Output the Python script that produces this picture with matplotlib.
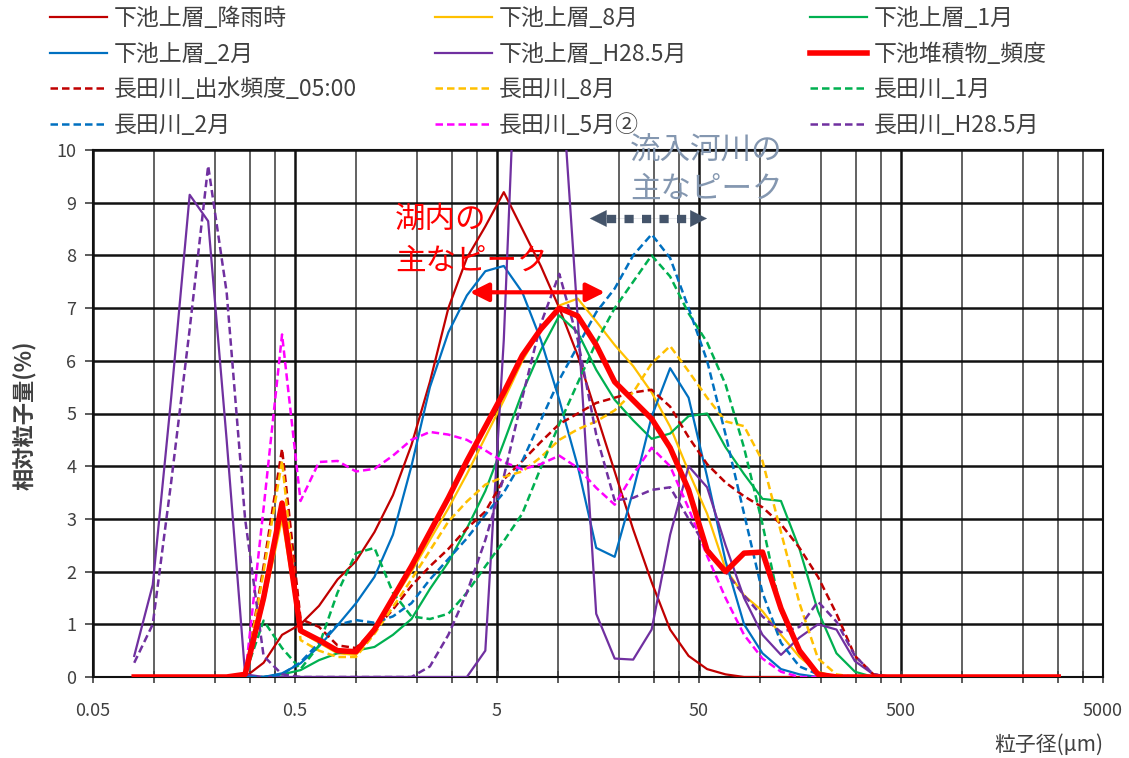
import matplotlib
matplotlib.use('Agg')
from matplotlib import pyplot as plt
from matplotlib.ticker import FixedLocator, FixedFormatter, NullFormatter

# particle size channels [um]
size_um = [0.080, 0.0988, 0.1219, 0.1505, 0.1858, 0.2294, 0.2831, 0.3495, 0.4314, 0.5326,
           0.6575, 0.8116, 1.002, 1.237, 1.527, 1.885, 2.327, 2.872, 3.546, 4.377,
           5.403, 6.671, 8.235, 10.17, 12.55, 15.49, 19.12, 23.61, 29.14, 35.98,
           44.41, 54.83, 67.68, 83.56, 103.1, 127.3, 157.2, 194.1, 239.6, 295.8,
           365.1, 450.7, 556.4, 686.9, 848.0, 1046, 1292, 1595, 1969, 2431, 3000]

# relative amount [%]
lake_rain = [0, 0, 0, 0, 0, 0, 0, 0.27, 0.8, 1.0,
             1.35, 1.85, 2.2, 2.75, 3.45, 4.4, 5.6, 7.0, 7.95, 8.55,
             9.2, 8.5, 7.8, 7.0, 6.1, 5.0, 3.9, 2.8, 1.8, 0.9,
             0.4, 0.15, 0.05, 0, 0, 0, 0, 0, 0, 0,
             0, 0, 0, 0, 0, 0, 0, 0, 0, 0, 0]
lake_aug = [0, 0, 0, 0, 0, 0, 0, 1.4, 3.0, 0.85,
            0.65, 0.45, 0.42, 0.85, 1.45, 2.0, 2.6, 3.2, 3.85, 4.55,
            5.25, 6.0, 6.6, 7.05, 7.18, 6.75, 6.3, 5.9, 5.4, 4.75,
            3.9, 3.1, 2.05, 1.55, 1.25, 0.8, 0.38, 0.1, 0, 0,
            0, 0, 0, 0, 0, 0, 0, 0, 0, 0, 0]
lake_jan = [0, 0, 0, 0, 0, 0, 0, 0, 0.05, 0.13,
            0.32, 0.45, 0.5, 0.57, 0.8, 1.1, 1.67, 2.18, 2.82, 3.53,
            4.45, 5.4, 6.2, 6.86, 6.54, 5.83, 5.26, 4.87, 4.52, 4.62,
            4.95, 5.0, 4.36, 3.85, 3.38, 3.34, 2.43, 1.25, 0.45, 0.1,
            0, 0, 0, 0, 0, 0, 0, 0, 0, 0, 0]
lake_feb = [0, 0, 0, 0, 0, 0, 0, 0, 0.07, 0.26,
            0.58, 0.98, 1.4, 1.9, 2.7, 4.0, 5.5, 6.54, 7.24, 7.7,
            7.8, 7.3, 6.4, 5.26, 4.0, 2.45, 2.28, 3.53, 4.94, 5.86,
            5.3, 3.8, 2.2, 1.0, 0.45, 0.15, 0.05, 0, 0, 0,
            0, 0, 0, 0, 0, 0, 0, 0, 0, 0, 0]
lake_may = [0.4, 1.75, 5.3, 9.15, 8.65, 4.5, 0.05, 0, 0, 0,
            0, 0, 0, 0, 0, 0, 0, 0, 0, 0.5,
            6.4, 15.0, 18.0, 12.0, 6.8, 1.2, 0.35, 0.33, 0.9, 2.7,
            4.0, 3.6, 2.5, 1.5, 0.8, 0.42, 0.75, 1.0, 0.9, 0.3,
            0.05, 0, 0, 0, 0, 0, 0, 0, 0, 0, 0]
sediment = [0, 0, 0, 0, 0, 0, 0.05, 1.5, 3.3, 0.88,
            0.7, 0.5, 0.48, 0.9, 1.5, 2.1, 2.75, 3.4, 4.1, 4.75,
            5.4, 6.1, 6.6, 7.0, 6.85, 6.3, 5.6, 5.25, 4.9, 4.35,
            3.55, 2.4, 2.0, 2.35, 2.37, 1.3, 0.5, 0.05, 0, 0,
            0, 0, 0, 0, 0, 0, 0, 0, 0, 0, 0]
river_flood = [0, 0, 0, 0, 0, 0, 0, 2.1, 4.33, 1.1,
               0.95, 0.6, 0.55, 0.9, 1.28, 1.73, 2.1, 2.43, 2.82, 3.14,
               3.75, 4.1, 4.46, 4.8, 5.0, 5.2, 5.3, 5.4, 5.45, 5.13,
               4.55, 4.04, 3.69, 3.43, 3.22, 2.9, 2.45, 1.9, 1.2, 0.4,
               0.05, 0, 0, 0, 0, 0, 0, 0, 0, 0, 0]
river_aug = [0, 0, 0, 0, 0, 0, 0, 2.0, 4.1, 0.7,
             0.5, 0.38, 0.38, 0.82, 1.33, 1.85, 2.4, 2.95, 3.33, 3.65,
             3.8, 3.9, 4.17, 4.5, 4.7, 4.85, 5.06, 5.4, 5.95, 6.28,
             5.8, 5.3, 4.85, 4.76, 4.1, 2.75, 1.4, 0.35, 0.05, 0,
             0, 0, 0, 0, 0, 0, 0, 0, 0, 0, 0]
river_jan = [0, 0, 0, 0, 0, 0, 0.05, 1.07, 0.55, 0.15,
             0.6, 1.6, 2.35, 2.45, 1.6, 1.15, 1.1, 1.2, 1.6, 2.1,
             2.58, 3.1, 3.97, 4.8, 5.58, 6.35, 7.0, 7.5, 8.0, 7.6,
             6.9, 6.35, 5.55, 4.35, 2.9, 1.25, 0.45, 0.08, 0, 0,
             0, 0, 0, 0, 0, 0, 0, 0, 0, 0, 0]
river_feb = [0, 0, 0, 0, 0, 0, 0, 0, 0.05, 0.28,
             0.65, 0.99, 1.08, 1.03, 1.15, 1.4, 1.85, 2.24, 2.63, 3.08,
             3.5, 4.1, 4.87, 5.64, 6.28, 6.92, 7.37, 8.0, 8.4, 7.95,
             7.0, 6.0, 4.6, 3.1, 1.6, 0.65, 0.2, 0.05, 0, 0,
             0, 0, 0, 0, 0, 0, 0, 0, 0, 0, 0]
river_may2 = [0, 0, 0, 0, 0, 0, 0, 3.2, 6.5, 3.34,
              4.08, 4.1, 3.9, 3.95, 4.2, 4.5, 4.65, 4.6, 4.5, 4.3,
              4.08, 3.94, 4.04, 4.2, 3.97, 3.59, 3.27, 3.85, 4.35, 4.0,
              3.2, 2.3, 1.5, 0.8, 0.35, 0.1, 0, 0, 0, 0,
              0, 0, 0, 0, 0, 0, 0, 0, 0, 0, 0]
river_may = [0.27, 1.0, 3.7, 6.6, 9.7, 7.3, 3.0, 0.4, 0.05, 0,
             0, 0, 0, 0, 0, 0, 0.2, 0.8, 1.6, 2.6,
             3.8, 5.3, 6.7, 7.65, 6.4, 4.6, 3.35, 3.4, 3.55, 3.6,
             3.0, 2.45, 2.0, 1.55, 1.15, 0.85, 0.95, 1.43, 1.05, 0.4,
             0.05, 0, 0, 0, 0, 0, 0, 0, 0, 0, 0]

labels = ['下池上層_降雨時', '下池上層_8月', '下池上層_1月',
          '下池上層_2月', '下池上層_H28.5月', '下池堆積物_頻度',
          '長田川_出水頻度_05:00', '長田川_8月', '長田川_1月',
          '長田川_2月', '長田川_5月②', '長田川_H28.5月']
series = [lake_rain, lake_aug, lake_jan, lake_feb, lake_may, sediment,
          river_flood, river_aug, river_jan, river_feb, river_may2, river_may]

x_major = [0.05, 0.5, 5, 50, 500, 5000]
x_major_labels = ['0.05', '0.5', '5', '50', '500', '5000']
x_minor = [0.1, 0.2, 0.3, 0.4, 1, 2, 3, 4, 10, 20, 30, 40,
           100, 200, 300, 400, 1000, 2000, 3000, 4000]

# styles
colors = ['#C00000', '#FFC000', '#00B050', '#0070C0', '#7030A0', '#FF0000',
          '#C00000', '#FFC000', '#00B050', '#0070C0', '#FF00FF', '#7030A0']
dash = (0, (3, 1.6))
styles = ['-'] * 6 + [dash] * 6
widths = [1.6, 1.6, 1.6, 1.6, 1.6, 4.0, 1.8, 1.8, 1.8, 1.8, 1.8, 1.8]

plt.rcParams['font.family'] = ['Noto Sans CJK JP', 'DejaVu Sans']

W, H = 1129, 758
fig = plt.figure(figsize=(W / 100, H / 100), dpi=100)
ax = fig.add_axes([93 / W, 1 - 677 / H, (1103 - 93) / W, (677 - 150) / H])

lines = []
for k in range(len(series)):
    z = 5 if k == 5 else 3
    ln, = ax.plot(size_um, series[k], color=colors[k], ls=styles[k],
                  lw=widths[k], label=labels[k], zorder=z)
    lines.append(ln)

ax.set_xscale('log')
ax.set_xlim(0.05, 5000)
ax.set_ylim(0, 10)
ax.xaxis.set_major_locator(FixedLocator(x_major))
ax.xaxis.set_major_formatter(FixedFormatter(x_major_labels))
ax.xaxis.set_minor_locator(FixedLocator(x_minor))
ax.xaxis.set_minor_formatter(NullFormatter())
ax.set_yticks(range(0, 11))

ax.grid(which='major', axis='x', color='#111111', lw=1.8)
ax.grid(which='minor', axis='x', color='#555555', lw=1.3)
ax.grid(which='major', axis='y', color='#111111', lw=1.8)
ax.set_axisbelow(True)
for s in ax.spines.values():
    s.set_color('#111111')
    s.set_linewidth(1.5)

ax.tick_params(axis='y', direction='out', length=6, width=1.2,
               colors='#404040', labelsize=13, pad=6)
ax.tick_params(axis='x', which='both', direction='inout', length=8, width=1.2,
               colors='#404040', labelsize=13, pad=14)

# axis titles
fig.text(1103 / W, 1 - 745 / H, '粒子径(μm)', ha='right', va='center',
         fontsize=15, color='#404040')
fig.text(25 / W, 1 - 415 / H, '相対粒子量(%)', rotation=90, ha='center',
         va='center', fontsize=16, fontweight='bold', color='#404040')

# annotations
ax.text(1.56, 8.29, '湖内の\n主なピーク', color='#FF0000', fontsize=22,
        ha='left', va='center', linespacing=1.45, zorder=6)
ax.annotate('', xy=(17.1, 7.3), xytext=(3.67, 7.3),
            arrowprops=dict(arrowstyle='<|-|>', color='#FF0000', lw=3,
                            mutation_scale=28, shrinkA=0, shrinkB=0), zorder=6)
ax.text(22.8, 9.62, '流入河川の\n主なピーク', color='#8497B0', fontsize=22,
        ha='left', va='center', linespacing=1.3, zorder=6)
ax.plot([17.5, 45], [8.7, 8.7], color='#44546A', lw=6,
        ls=(0, (1.1, 1.0)), zorder=6)
ax.annotate('', xy=(54.8, 8.7), xytext=(14.4, 8.7),
            arrowprops=dict(arrowstyle='<|-|>', color='#44546A', lw=0.1,
                            mutation_scale=30, shrinkA=0, shrinkB=0), zorder=6)

# legend: three columns, filled row by row
col_x = [50, 435, 810]
for c in range(3):
    hs = [lines[r * 3 + c] for r in range(4)]
    fig.legend(handles=hs, labels=[h.get_label() for h in hs],
               loc='upper left', bbox_to_anchor=(col_x[c] / W, 1 - 7 / H),
               frameon=False, fontsize=16.5, handlelength=2.5,
               handletextpad=0.3, labelspacing=0.55, borderpad=0,
               borderaxespad=0, labelcolor='#404040')

fig.savefig('out.png', dpi=100)
